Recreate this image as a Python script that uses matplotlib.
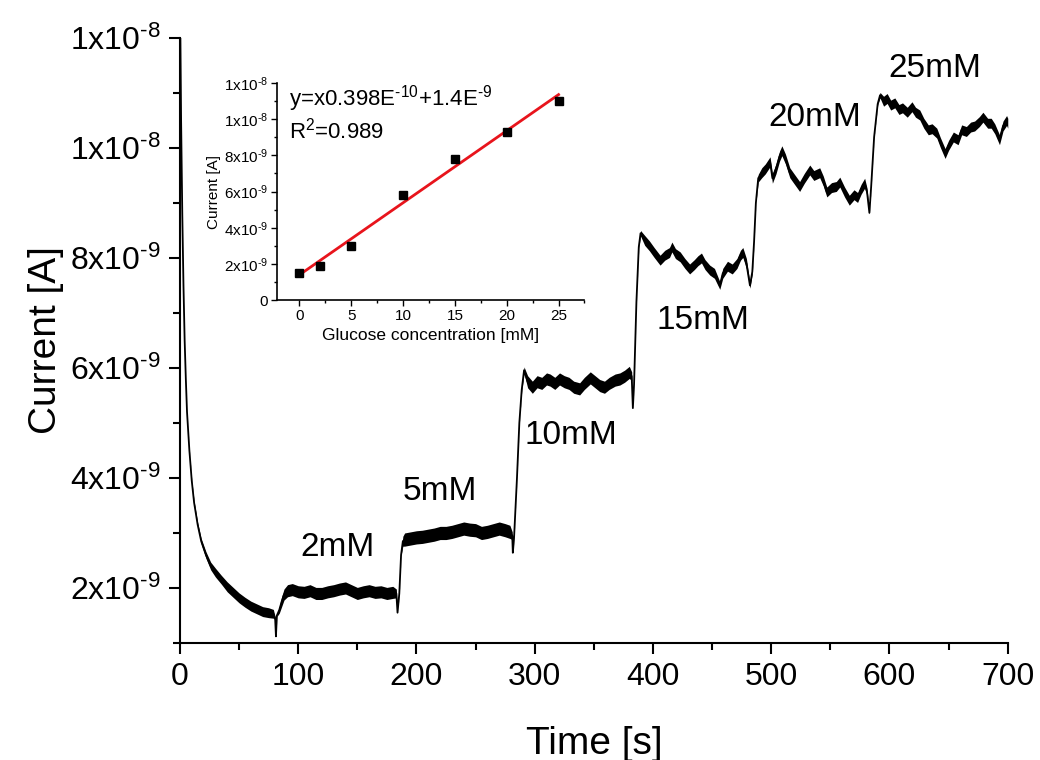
import numpy as np
import matplotlib.pyplot as plt
from matplotlib.ticker import FixedLocator, MultipleLocator

plt.rcParams['font.family'] = ['Liberation Sans', 'DejaVu Sans']
plt.rcParams['mathtext.fontset'] = 'custom'
plt.rcParams['mathtext.rm'] = 'Liberation Sans'
plt.rcParams['mathtext.it'] = 'Liberation Sans:italic'

# chronoamperometric trace (time in s, current in nA,
# noise = half thickness of the noisy band in nA)
t_base = [0, 1, 2, 3, 4, 5, 6, 8, 10, 12, 15, 18, 22, 26, 30, 35, 40, 45, 50, 55,
          60, 65, 70, 75, 79, 80.5, 81.2, 82, 84, 86, 88]
i_base = [13.0, 10.5, 8.8, 7.5, 6.5, 5.8, 5.2, 4.5, 3.95, 3.55, 3.15, 2.85, 2.6, 2.4,
          2.28, 2.15, 2.02, 1.92, 1.82, 1.74, 1.67, 1.62, 1.57, 1.55, 1.53, 1.45, 1.12,
          1.5, 1.6, 1.75, 1.88]
w_base = [0, 0, 0, 0, 0, 0, 0, 0.01, 0.02, 0.03, 0.04, 0.05, 0.06, 0.07, 0.08, 0.08,
          0.09, 0.09, 0.09, 0.09, 0.09, 0.09, 0.09, 0.09, 0.08, 0.03, 0, 0.02, 0.06,
          0.09, 0.1]

t_2mm = [91, 95, 100, 105, 110, 115, 120, 125, 130, 135, 140, 145, 150, 155, 160,
         165, 170, 175, 180, 183, 184, 185.5, 187, 188.5]
i_2mm = [1.95, 1.97, 1.93, 1.92, 1.95, 1.9, 1.9, 1.93, 1.95, 1.98, 2.0, 1.95, 1.9,
         1.93, 1.95, 1.92, 1.93, 1.9, 1.92, 1.9, 1.55, 1.9, 2.6, 2.85]
w_2mm = [0.11, 0.11, 0.11, 0.11, 0.11, 0.11, 0.11, 0.11, 0.11, 0.11, 0.11, 0.11, 0.11,
         0.11, 0.11, 0.11, 0.11, 0.11, 0.11, 0.08, 0, 0.02, 0.01, 0.09]

t_5mm = [190, 195, 200, 205, 210, 215, 220, 225, 230, 235, 240, 245, 250, 255, 260,
         265, 270, 275, 279, 281, 281.5, 282.5, 285, 287, 289]
i_5mm = [2.88, 2.9, 2.92, 2.93, 2.95, 2.97, 3.0, 3.0, 3.02, 3.05, 3.08, 3.06, 3.05,
         3.0, 3.02, 3.05, 3.08, 3.05, 3.02, 2.95, 2.64, 2.9, 4.0, 5.0, 5.6]
w_5mm = [0.12, 0.12, 0.12, 0.12, 0.12, 0.12, 0.12, 0.12, 0.12, 0.12, 0.12, 0.12, 0.12,
         0.12, 0.12, 0.12, 0.12, 0.12, 0.12, 0.07, 0, 0.01, 0.01, 0.01, 0.03]

t_10mm = [291, 294, 298, 302, 306, 310, 313, 317, 321, 325, 329, 333, 338, 342, 347,
          351, 355, 359, 363, 368, 372, 376, 380, 382, 383, 384, 386, 388]
i_10mm = [5.96, 5.75, 5.65, 5.75, 5.72, 5.8, 5.78, 5.72, 5.8, 5.75, 5.72, 5.65, 5.62,
          5.72, 5.82, 5.75, 5.68, 5.65, 5.72, 5.78, 5.8, 5.85, 5.92, 5.85, 5.27, 5.7,
          7.2, 8.2]
w_10mm = [0.06, 0.11, 0.11, 0.11, 0.11, 0.11, 0.11, 0.11, 0.11, 0.11, 0.11, 0.11, 0.11,
          0.11, 0.11, 0.11, 0.11, 0.11, 0.11, 0.11, 0.11, 0.11, 0.11, 0.08, 0, 0.01,
          0.01, 0.02]

t_15mm = [389.5, 393, 397, 401, 406, 410, 414, 416, 419, 423, 427, 431, 435, 438, 441,
          444, 448, 452, 456.5, 459, 463, 467, 471, 474, 476, 479, 482, 484, 485.5, 487]
i_15mm = [8.45, 8.32, 8.22, 8.1, 7.96, 8.05, 8.1, 8.2, 8.08, 8.02, 7.9, 7.8, 7.88,
          7.95, 8.0, 7.88, 7.78, 7.72, 7.5, 7.72, 7.85, 7.8, 7.9, 8.05, 8.1, 7.9, 7.5,
          7.75, 8.3, 9.0]
w_15mm = [0.05, 0.09, 0.09, 0.09, 0.09, 0.09, 0.09, 0.09, 0.09, 0.09, 0.09, 0.09,
          0.09, 0.09, 0.09, 0.09, 0.09, 0.09, 0.07, 0.09, 0.09, 0.09, 0.09, 0.09, 0.09,
          0.09, 0.05, 0.04, 0.01, 0.01]

t_20mm = [489, 492, 495, 499, 501, 504, 507, 509, 512, 515.7, 519, 524, 528, 532.6,
          536, 541, 544, 547, 551, 555, 558, 562, 566, 570, 573, 576, 579, 581, 583,
          584.5, 587, 590]
i_20mm = [9.45, 9.55, 9.62, 9.75, 9.45, 9.62, 9.85, 9.95, 9.8, 9.55, 9.45, 9.3, 9.45,
          9.6, 9.5, 9.55, 9.4, 9.2, 9.28, 9.3, 9.38, 9.2, 9.05, 9.15, 9.1, 9.25, 9.36,
          9.2, 8.82, 9.3, 10.2, 10.8]
w_20mm = [0.07, 0.09, 0.09, 0.09, 0.09, 0.09, 0.09, 0.09, 0.09, 0.09, 0.09, 0.09,
          0.09, 0.09, 0.09, 0.09, 0.09, 0.09, 0.09, 0.09, 0.09, 0.09, 0.09, 0.09, 0.09,
          0.09, 0.09, 0.07, 0.02, 0.01, 0.01, 0.02]

t_25mm = [592, 595, 598, 601, 604.5, 608, 611, 615, 619, 622, 625.6, 629, 632.8, 636,
          640, 643, 647, 650, 654, 658, 661, 665, 668.6, 672, 676, 679, 683, 686, 689,
          693, 696, 699, 700]
i_25mm = [10.96, 10.85, 10.9, 10.78, 10.82, 10.7, 10.73, 10.65, 10.75, 10.65, 10.6,
          10.45, 10.33, 10.35, 10.27, 10.1, 9.9, 10.05, 10.2, 10.15, 10.33, 10.3,
          10.38, 10.4, 10.48, 10.56, 10.45, 10.45, 10.35, 10.15, 10.4, 10.5, 10.45]
w_25mm = [0.05, 0.09, 0.09, 0.09, 0.09, 0.09, 0.09, 0.09, 0.09, 0.09, 0.09, 0.09,
          0.09, 0.09, 0.09, 0.09, 0.09, 0.09, 0.09, 0.09, 0.09, 0.09, 0.09, 0.09, 0.09,
          0.09, 0.09, 0.09, 0.09, 0.09, 0.09, 0.09, 0.09]

# step labels
step_labels = ["2mM", "5mM", "10mM", "15mM", "20mM", "25mM"]
step_label_t = [133, 220, 331, 442, 537, 638]
step_label_i = [2.73, 3.75, 4.78, 6.87, 10.55, 11.45]

# short hyphen in the exponents, like the original
H = "\u2010"
main_yticks = [2, 4, 6, 8, 10, 12]
main_yticklabels = ["2x10$^{%s9}$" % H, "4x10$^{%s9}$" % H, "6x10$^{%s9}$" % H,
                    "8x10$^{%s9}$" % H, "1x10$^{%s8}$" % H, "1x10$^{%s8}$" % H]

# calibration inset
conc_mM = [0, 2, 5, 10, 15, 20, 25]
calib_nA = [1.5, 1.9, 3.0, 5.8, 7.8, 9.3, 11.0]
fit_slope = 0.398e-9
fit_intercept = 1.4e-9
inset_yticks = [0, 2, 4, 6, 8, 10, 12]
inset_yticklabels = ["0"] + main_yticklabels

t = np.array(t_base + t_2mm + t_5mm + t_10mm + t_15mm + t_20mm + t_25mm)
cur = np.array(i_base + i_2mm + i_5mm + i_10mm + i_15mm + i_20mm + i_25mm) * 1e-9
noise = np.array(w_base + w_2mm + w_5mm + w_10mm + w_15mm + w_20mm + w_25mm) * 1e-9

fig = plt.figure(figsize=(10.4, 7.6), dpi=100)
ax = fig.add_axes([0.173, 0.154, 0.796, 0.796])

ax.fill_between(t, cur - noise, cur + noise, color="k", lw=0)
ax.plot(t, cur, color="k", lw=1.3)

for lab, tx, iy in zip(step_labels, step_label_t, step_label_i):
    ax.text(tx, iy * 1e-9, lab, fontsize=24, ha="center", va="center")

ax.set_xlim(0, 700)
ax.set_ylim(1e-9, 1.2e-8)
ax.xaxis.set_major_locator(MultipleLocator(100))
ax.xaxis.set_minor_locator(MultipleLocator(50))
ax.yaxis.set_major_locator(FixedLocator([v * 1e-9 for v in main_yticks]))
ax.yaxis.set_minor_locator(FixedLocator([v * 1e-9 for v in range(1, 13, 2)]))
ax.set_yticklabels(main_yticklabels)
ax.spines["top"].set_visible(False)
ax.spines["right"].set_visible(False)
for s in ["left", "bottom"]:
    ax.spines[s].set_linewidth(1.5)
ax.tick_params(which="major", direction="out", length=8, width=1.5, labelsize=23, pad=6)
ax.tick_params(which="minor", direction="out", length=5, width=1.5)
ax.set_xlabel("Time [s]", fontsize=28, labelpad=24)
ax.set_ylabel("Current [A]", fontsize=28, labelpad=4)

# inset
ins = fig.add_axes([0.266, 0.605, 0.296, 0.286])
ins.set_facecolor("none")
xs = np.array([0, 25])
ins.plot(xs, fit_slope * xs + fit_intercept, color="#e8141c", lw=2, zorder=2)
ins.plot(conc_mM, np.array(calib_nA) * 1e-9, "s", color="k", ms=6, zorder=3)
ins.set_xlim(-2.2, 27.5)
ins.set_ylim(0, 1.2e-8)
ins.xaxis.set_major_locator(MultipleLocator(5))
ins.xaxis.set_minor_locator(MultipleLocator(2.5))
ins.yaxis.set_major_locator(FixedLocator([v * 1e-9 for v in inset_yticks]))
ins.yaxis.set_minor_locator(FixedLocator([v * 1e-9 for v in range(1, 13, 2)]))
ins.set_yticklabels(inset_yticklabels)
ins.spines["top"].set_visible(False)
ins.spines["right"].set_visible(False)
for s in ["left", "bottom"]:
    ins.spines[s].set_linewidth(1.2)
ins.tick_params(which="major", direction="out", length=4, width=1, labelsize=11, pad=2)
ins.tick_params(which="minor", direction="out", length=2.5, width=1)
ins.set_xlabel("Glucose concentration [mM]", fontsize=12.5, labelpad=4)
ins.set_ylabel("Current [A]", fontsize=11, labelpad=2)
ins.text(0.04, 0.93, "y=x0.398E$^{%s10}$+1.4E$^{%s9}$" % (H, H), transform=ins.transAxes,
         fontsize=16, ha="left", va="center")
ins.text(0.04, 0.78, "R$^{2}$=0.989", transform=ins.transAxes,
         fontsize=16, ha="left", va="center")

fig.savefig("out.png", dpi=100)
